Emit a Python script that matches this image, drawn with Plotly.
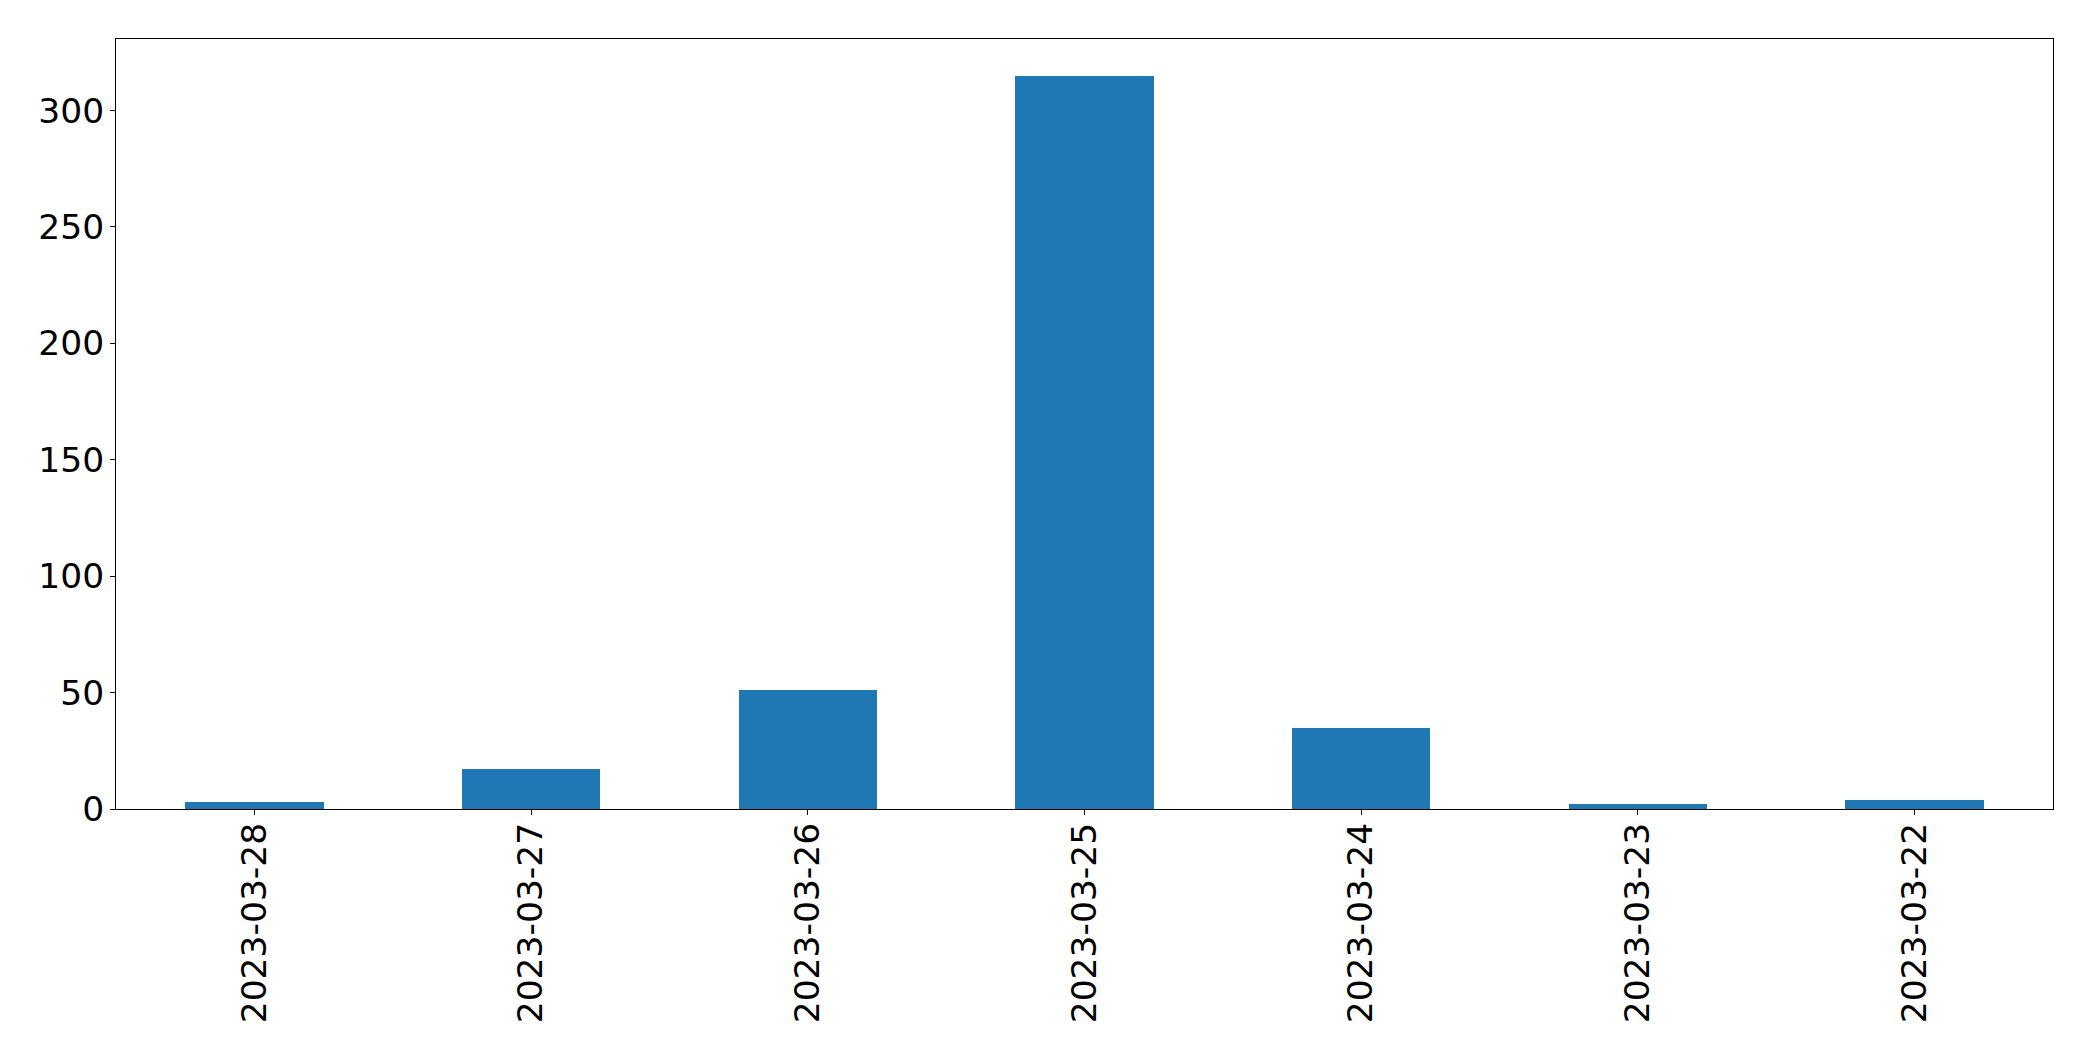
import plotly.graph_objects as go

dates = ["2023-03-28", "2023-03-27", "2023-03-26", "2023-03-25",
         "2023-03-24", "2023-03-23", "2023-03-22"]
counts = [3, 17, 51, 315, 35, 2, 4]
y_ticks = [0, 50, 100, 150, 200, 250, 300]

fig = go.Figure(go.Bar(x=dates, y=counts, width=0.5, marker_color="#1f77b4",
                       marker_line_width=0))

axis_common = dict(showline=True, linecolor="black", linewidth=1, mirror=True,
                   ticks="outside", ticklen=5, tickcolor="black", tickwidth=1,
                   showgrid=False, zeroline=False)

fig.update_layout(
    width=2093, height=1061,
    margin=dict(l=108, r=48, t=31, b=260),
    paper_bgcolor="white", plot_bgcolor="white",
    font=dict(family="DejaVu Sans", size=34.5, color="black"),
    showlegend=False,
    bargap=0,
)
fig.update_xaxes(type="category", range=[-0.5, 6.5], tickangle=-90,
                 ticklabelstandoff=-6, **axis_common)
fig.update_yaxes(range=[0, 330.75], tickvals=y_ticks, ticklabelstandoff=-1,
                 **axis_common)

fig.write_html("out.html")
